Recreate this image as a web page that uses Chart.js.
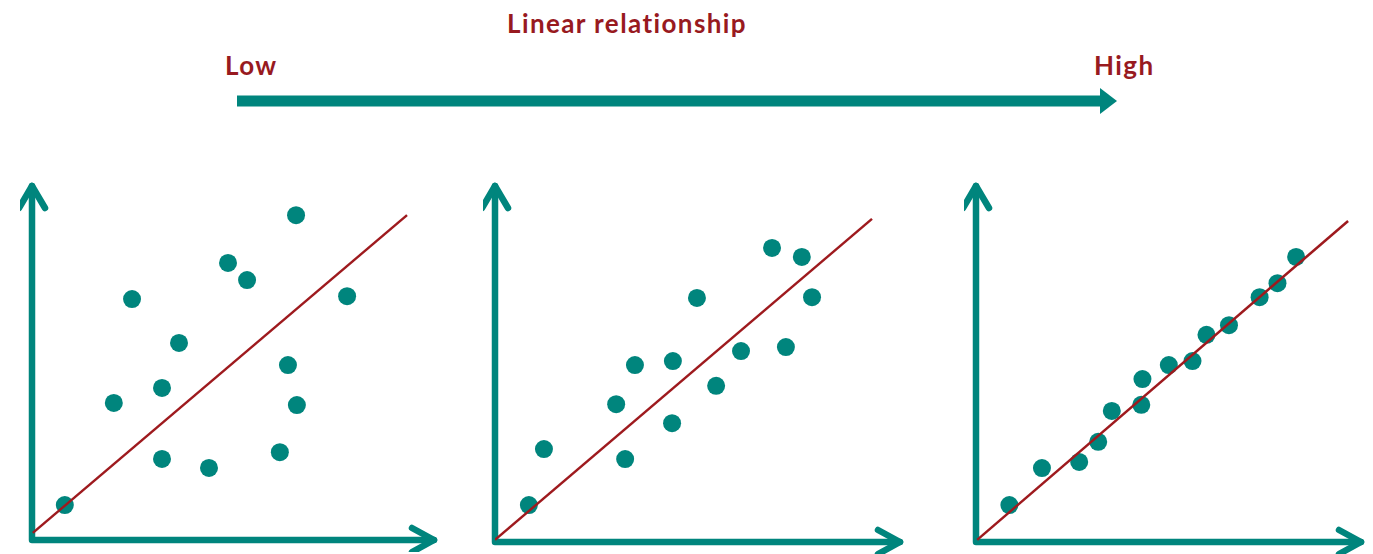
<!DOCTYPE html>
<html>
<head>
<meta charset="utf-8">
<script src="https://cdn.jsdelivr.net/npm/chart.js@4.4.1/dist/chart.umd.min.js"></script>
<style>
    body { margin: 0; background: #fff; width: 1373px; height: 554px; overflow: hidden; position: relative; font-family: Lato, sans-serif; }
    .label { position: absolute; color: #981a1f; font-weight: bold; font-size: 26px; line-height: 26px; letter-spacing: 1.4px; white-space: nowrap; }
    canvas { position: absolute; }
    svg { position: absolute; left: 0; top: 0; }
</style>
</head>
<body>
<div class="label" style="left:507px; top:10px;">Linear relationship</div>
<div class="label" style="left:225px; top:52px;">Low</div>
<div class="label" style="left:1094px; top:52px;">High</div>
<svg width="1373" height="140">
    <rect x="237" y="95.5" width="866" height="11" fill="#00857d"></rect>
    <polygon points="1100,88 1117,101 1100,114" fill="#00857d"></polygon>
</svg>
<canvas id="chart1"></canvas>
<canvas id="chart2"></canvas>
<canvas id="chart3"></canvas>
<script>
    // values, axes run 0..100
    const weakX = [8.1, 24.7, 20.2, 32.1, 36.3, 32.1, 43.7, 48.4, 53.1, 65.2, 77.8, 63.2, 65.4, 61.2];
    const weakY = [9.8, 67.5, 38.4, 42.6, 55.2, 22.7, 20.2, 77.6, 72.8, 91.0, 68.3, 49.0, 37.8, 24.6];
    const weakFitX = [0.2, 92.6];
    const weakFitY = [2.0, 91.0];

    const mediumX = [8.3, 12.0, 29.7, 34.3, 31.9, 43.6, 43.4, 49.5, 54.2, 60.3, 67.9, 75.2, 77.7, 71.3];
    const mediumY = [10.3, 25.9, 38.4, 49.3, 23.1, 50.4, 33.1, 68.0, 43.5, 53.2, 81.9, 79.4, 68.2, 54.3];
    const mediumFitX = [0, 92.4];
    const mediumFitY = [0.6, 90.0];

    const strongX = [8.6, 17.0, 26.6, 31.5, 35.0, 42.6, 42.9, 49.7, 55.8, 59.4, 65.2, 73.1, 77.7, 82.5];
    const strongY = [10.3, 20.6, 22.3, 27.9, 36.5, 38.2, 45.4, 49.3, 50.4, 57.7, 60.4, 68.2, 72.1, 79.4];
    const strongFitX = [0.3, 95.9];
    const strongFitY = [0.6, 89.4];

    const teal = '#00857d';
    const red = '#9e1a1e';
    const pad = 12;

    const axisArrows = {
        id: 'axisArrows',
        beforeDatasetsDraw(chart) {
            const ctx = chart.ctx;
            const a = chart.chartArea;
            const top = a.top + 3;
            const right = a.right - 3;
            ctx.save();
            ctx.strokeStyle = teal;
            ctx.lineWidth = 6.5;
            ctx.lineCap = 'round';
            ctx.lineJoin = 'round';
            ctx.beginPath();
            ctx.moveTo(a.left, top);
            ctx.lineTo(a.left, a.bottom);
            ctx.lineTo(right, a.bottom);
            ctx.stroke();
            ctx.beginPath();
            ctx.moveTo(a.left - 13, top + 22);
            ctx.lineTo(a.left, top);
            ctx.lineTo(a.left + 13, top + 22);
            ctx.moveTo(right - 22, a.bottom - 12);
            ctx.lineTo(right, a.bottom);
            ctx.lineTo(right - 22, a.bottom + 12);
            ctx.stroke();
            ctx.restore();
        }
    };

    function toPoints(xs, ys) {
        return xs.map((x, i) => ({ x: x, y: ys[i] }));
    }

    function makePanel(id, box, xs, ys, fitX, fitY) {
        const canvas = document.getElementById(id);
        const padRight = Math.min(pad, 1373 - box.right);
        canvas.width = box.right - box.left + pad + padRight;
        canvas.height = box.bottom - box.top + pad * 2;
        canvas.style.left = (box.left - pad) + 'px';
        canvas.style.top = (box.top - pad) + 'px';

        return new Chart(canvas, {
            type: 'scatter',
            data: {
                datasets: [{
                    type: 'line',
                    data: toPoints(fitX, fitY),
                    borderColor: red,
                    borderWidth: 2.5,
                    pointRadius: 0,
                    fill: false,
                    order: 0
                }, {
                    data: toPoints(xs, ys),
                    backgroundColor: teal,
                    borderWidth: 0,
                    pointRadius: 9,
                    pointHoverRadius: 9,
                    order: 1
                }]
            },
            options: {
                responsive: false,
                animation: false,
                events: [],
                layout: { padding: { left: pad, top: pad, bottom: pad, right: padRight } },
                plugins: {
                    legend: { display: false },
                    tooltip: { enabled: false }
                },
                scales: {
                    x: { type: 'linear', display: false, min: 0, max: 100 },
                    y: { display: false, min: 0, max: 100 }
                }
            },
            plugins: [axisArrows]
        });
    }

    makePanel('chart1', { left: 32, top: 183, right: 437, bottom: 540 }, weakX, weakY, weakFitX, weakFitY);
    makePanel('chart2', { left: 495, top: 183, right: 903, bottom: 542 }, mediumX, mediumY, mediumFitX, mediumFitY);
    makePanel('chart3', { left: 976, top: 183, right: 1373, bottom: 542 }, strongX, strongY, strongFitX, strongFitY);
</script>
</body>
</html>
